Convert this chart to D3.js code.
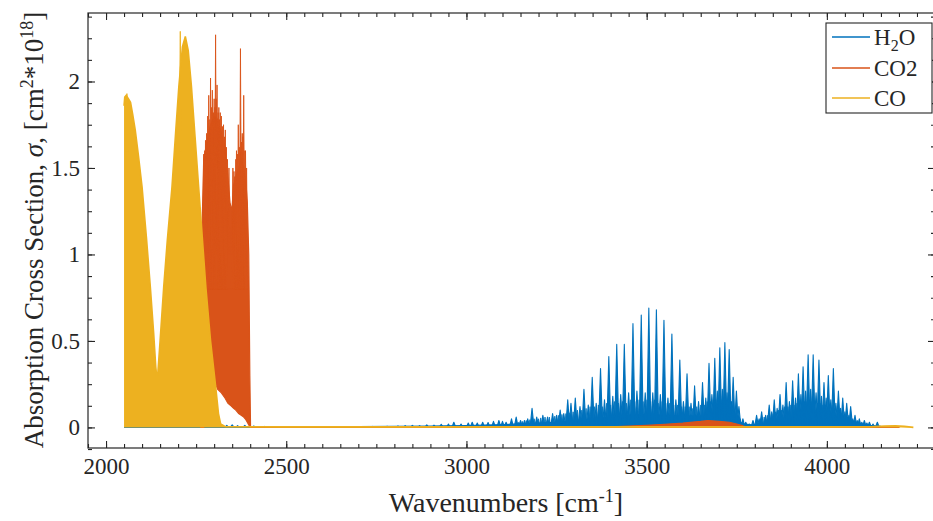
<!DOCTYPE html>
<html><head><meta charset="utf-8">
<script src="https://cdn.jsdelivr.net/npm/d3@7"></script>
<style>
body{margin:0;background:#fff}
svg{display:block}
text{font-family:"Liberation Serif","Times New Roman",serif;fill:#262626}
</style>
</head><body>
<svg id="c" width="933" height="521"></svg>
<script>
// ---------- axis settings ----------
const xDomain = [1950, 4300];
const yDomain = [-0.119, 2.396];
const xMajorTicks = [2000, 2500, 3000, 3500, 4000];
const yMajorTicks = [0, 0.5, 1, 1.5, 2];
const yTickLabels = ["0", "0.5", "1", "1.5", "2"];
const seriesNames = ["H2O", "CO2", "CO"];
const colors = ["#0072BD", "#D95319", "#EDB120"];

// ---------- CO (envelope of dense lines) ----------
const coWn  = [2050,2052,2056,2062,2068,2074,2081,2090,2100,2112,2123,2132,2138,2141,2144,2150,2160,2170,2183,2193,2202,2212,2220,2228,2237,2247,2257,2267,2277,2290,2304,2312,2318,2330,2500,3000,3500,4000,4120,4160,4190,4215,4240];
const coVal = [1.86,1.91,1.92,1.90,1.88,1.81,1.72,1.57,1.39,1.10,0.81,0.55,0.35,0.29,0.32,0.50,0.81,1.08,1.39,1.70,1.97,2.20,2.26,2.18,1.97,1.68,1.39,1.10,0.81,0.50,0.24,0.08,0.02,0.005,0.003,0.003,0.003,0.003,0.004,0.008,0.010,0.006,0];
const coSpikeWn  = [2058, 2206];
const coSpikeVal = [1.93, 2.29];

// ---------- CO2 (dense band: upper envelope, trough envelope) ----------
const co2Wn    = [2263,2267,2271,2280,2290,2300,2310,2320,2330,2338,2344,2349,2354,2360,2368,2375,2382,2388,2392,2396,2399,2401,2420,3000,3400,3450,3500,3550,3600,3650,3670,3700,3730,3750,3765,3775,4200];
const co2Upper = [0.30,1.20,1.55,1.65,1.75,1.80,1.78,1.70,1.62,1.45,1.30,1.25,1.40,1.45,1.50,1.55,1.50,1.42,1.30,1.00,0.30,0.00,0.002,0.002,0.004,0.008,0.012,0.018,0.025,0.035,0.040,0.035,0.030,0.020,0.010,0.002,0.001];
const co2Lower = [0,0,0,0.35,0.30,0.27,0.22,0.20,0.17,0.14,0.13,0.12,0.11,0.10,0.08,0.07,0.06,0.045,0.03,0.015,0.005,0,0,0,0,0,0,0,0,0,0,0,0,0,0,0,0];
const co2SpikeWn  = [2271,2274,2276,2279,2282,2285,2288,2290,2293,2295,2298,2300,2302,2304,2306,2308,2311,2313,2315,2317,2320,2323,2326,2329,2331,2334,2337,2341,2352,2355,2357,2360,2362,2365,2367,2370,2373,2376,2378,2380,2382,2385,2387,2390];
const co2SpikeVal = [1.58,1.60,1.66,1.70,1.80,1.92,1.78,2.02,1.85,1.95,1.82,1.90,1.85,2.27,1.90,1.98,1.82,1.85,1.78,1.82,1.80,1.74,1.75,1.68,1.72,1.62,1.55,1.50,1.50,1.48,1.45,1.55,1.60,1.58,1.75,1.62,2.19,1.65,1.70,1.68,1.92,1.60,1.60,1.50];

// ---------- H2O (dense floor + individual lines) ----------
const h2oBaseWn  = [2050,2300,2500,2700,2800,2900,3000,3100,3150,3200,3250,3300,3350,3400,3450,3500,3550,3600,3650,3700,3750,3770,3790,3810,3850,3900,3950,4000,4050,4100,4150,4200];
const h2oBaseVal = [0,0.003,0.004,0.005,0.006,0.008,0.011,0.016,0.020,0.025,0.030,0.040,0.050,0.060,0.070,0.075,0.070,0.065,0.065,0.065,0.040,0.020,0.015,0.020,0.030,0.045,0.055,0.050,0.035,0.015,0.006,0];
const h2oLineWn  = [2310,2335,2350,2365,2385,2410,2440,2480,2520,2560,2600,2650,2700,2740,2780,2810,2830,2850,2870,2890,2910,2930,2950,2965,2985,3005,3016,3030,3045,3060,3075,3090,3100,3110,3125,3138,3150,3161,3170,3182,3195,3212,3225,3239,3250,3260,3270,3281,3290,3302,3315,3326,3338,3349,3360,3372,3383,3395,3406,3417,3428,3438,3450,3462,3473,3485,3496,3506,3517,3527,3538,3548,3559,3570,3581,3592,3602,3612,3623,3633,3644,3655,3664,3673,3681,3689,3696,3703,3710,3717,3723,3729,3735,3740,3745,3749,3756,3767,3775,3785,3795,3805,3812,3819,3830,3840,3847,3854,3862,3870,3878,3887,3896,3905,3913,3921,3928,3934,3941,3948,3955,3962,3970,3978,3985,3992,3998,4004,4011,4018,4025,4032,4038,4044,4050,4055,4061,4066,4072,4078,4084,4090,4097,4104,4111,4118,4128,4140];
const h2oLineVal = [0.010,0.012,0.015,0.010,0.012,0.008,0.006,0.005,0.004,0.004,0.004,0.005,0.005,0.006,0.007,0.008,0.010,0.012,0.010,0.015,0.013,0.018,0.020,0.030,0.020,0.025,0.030,0.025,0.030,0.028,0.035,0.040,0.035,0.030,0.050,0.060,0.040,0.040,0.050,0.110,0.060,0.070,0.060,0.080,0.070,0.100,0.080,0.160,0.140,0.170,0.120,0.220,0.130,0.290,0.140,0.340,0.160,0.410,0.180,0.480,0.190,0.480,0.200,0.600,0.210,0.650,0.200,0.690,0.200,0.680,0.190,0.620,0.170,0.540,0.160,0.390,0.150,0.310,0.140,0.240,0.150,0.260,0.170,0.370,0.190,0.400,0.210,0.460,0.220,0.490,0.200,0.450,0.150,0.290,0.090,0.210,0.120,0.050,0.030,0.020,0.040,0.070,0.050,0.090,0.070,0.130,0.090,0.160,0.110,0.190,0.130,0.260,0.150,0.270,0.170,0.310,0.190,0.350,0.210,0.420,0.220,0.420,0.200,0.390,0.180,0.260,0.170,0.300,0.160,0.340,0.140,0.210,0.110,0.170,0.090,0.140,0.070,0.120,0.050,0.070,0.040,0.050,0.030,0.040,0.025,0.030,0.020,0.030];
const h2oWeakWn  = [3145,3155,3166,3176,3188,3200,3206,3218,3230,3245,3255,3265,3276,3285,3296,3308,3320,3332,3343,3355,3366,3377,3389,3400,3411,3422,3433,3444,3456,3467,3479,3490,3501,3511,3522,3532,3543,3553,3564,3575,3586,3597,3607,3618,3628,3639,3650,3660,3668,3677,3685,3692,3700,3706,3713,3720,3726,3732,3738,3752,3760,3816,3826,3835,3851,3858,3866,3874,3883,3892,3900,3909,3917,3925,3938,3945,3952,3959,3966,3974,3981,3989,3995,4001,4008,4015,4021,4029,4035,4041,4047,4053,4058,4064,4069,4075,4081,4087,4094,4101,4108];
const h2oWeakVal = [0.030,0.035,0.040,0.045,0.050,0.050,0.055,0.060,0.060,0.065,0.070,0.075,0.080,0.085,0.090,0.100,0.100,0.110,0.120,0.120,0.130,0.120,0.140,0.130,0.150,0.140,0.150,0.140,0.160,0.150,0.160,0.150,0.160,0.150,0.160,0.140,0.150,0.140,0.140,0.130,0.130,0.120,0.120,0.120,0.110,0.120,0.130,0.130,0.150,0.150,0.160,0.160,0.170,0.160,0.160,0.150,0.140,0.120,0.100,0.070,0.050,0.050,0.060,0.070,0.080,0.090,0.100,0.100,0.120,0.120,0.130,0.130,0.140,0.140,0.150,0.150,0.160,0.150,0.150,0.140,0.140,0.130,0.130,0.120,0.120,0.110,0.110,0.100,0.090,0.080,0.070,0.060,0.060,0.050,0.040,0.040,0.030,0.030,0.025,0.020,0.020];

// ---------- drawing ----------
const svg = d3.select("#c");
const m = {l:88, r:935, t:13, b:448};
const x = d3.scaleLinear().domain(xDomain).range([m.l, m.r]);
const y = d3.scaleLinear().domain(yDomain).range([m.b, m.t]);
const y0 = y(0);

svg.append("defs").append("clipPath").attr("id","clip")
  .append("rect").attr("x",m.l).attr("y",m.t).attr("width",m.r-m.l).attr("height",m.b-m.t);
const plot = svg.append("g").attr("clip-path","url(#clip)");

function spikes(g, wn, val, base, hw, color, sw){
  g.append("g").selectAll("path").data(wn.map((w,i)=>[w,val[i]])).join("path")
    .attr("d", d => { const cx=x(d[0]); return `M${cx-hw},${y(base)}L${cx},${y(d[1])}L${cx+hw},${y(base)}Z`; })
    .attr("fill", color).attr("stroke", color).attr("stroke-width", sw).attr("stroke-linejoin","round");
}

// H2O
const h2oBase = h2oBaseWn.map((w,i)=>[w,h2oBaseVal[i]]);
plot.append("path").datum(h2oBase)
  .attr("d", d3.area().x(d=>x(d[0])).y0(y0).y1(d=>y(d[1])))
  .attr("fill", colors[0]).attr("stroke",colors[0]).attr("stroke-width",1.2);
spikes(plot, h2oWeakWn, h2oWeakVal, 0, 1.4, colors[0], 0.8);
spikes(plot, h2oLineWn, h2oLineVal, 0, 2.0, colors[0], 1.1);

// CO2
const co2 = co2Wn.map((w,i)=>[w,co2Lower[i],co2Upper[i]]);
plot.append("path").datum(co2)
  .attr("d", d3.area().x(d=>x(d[0])).y0(d=>y(d[1])).y1(d=>y(d[2])))
  .attr("fill", colors[1]).attr("stroke",colors[1]).attr("stroke-width",1.2);
spikes(plot, co2SpikeWn, co2SpikeVal, 0.8, 1.2, colors[1], 0.9);

// CO
const co = coWn.map((w,i)=>[w,coVal[i]]);
plot.append("path").datum(co)
  .attr("d", d3.area().x(d=>x(d[0])).y0(y0).y1(d=>y(d[1])))
  .attr("fill", colors[2]);
plot.append("path").datum(co)
  .attr("d", d3.line().x(d=>x(d[0])).y(d=>y(d[1])))
  .attr("fill","none").attr("stroke",colors[2]).attr("stroke-width",1.6);
spikes(plot, coSpikeWn, coSpikeVal, 1.6, 1.2, colors[2], 0.9);

// ---------- axes ----------
const axColor = "#262626";
const xMinor = d3.range(xDomain[0], xDomain[1]+1, 50);
const yMinor = d3.range(-0.125, 2.4, 0.125);
function styleAxis(g){ g.select(".domain").remove(); g.selectAll("line").attr("stroke",axColor).attr("stroke-width",1.1); g.selectAll("text").attr("font-size",23).attr("fill",axColor).attr("font-family",'"Liberation Serif",serif'); }

svg.append("g").attr("transform",`translate(0,${m.b})`).call(d3.axisBottom(x).tickValues(xMinor).tickSize(-4).tickFormat("")).call(styleAxis);
svg.append("g").attr("transform",`translate(0,${m.b})`).call(d3.axisBottom(x).tickValues(xMajorTicks).tickSize(-7).tickPadding(10).tickFormat(d3.format("d"))).call(styleAxis);
svg.append("g").attr("transform",`translate(0,${m.t})`).call(d3.axisTop(x).tickValues(xMinor).tickSize(-4).tickFormat("")).call(styleAxis);
svg.append("g").attr("transform",`translate(0,${m.t})`).call(d3.axisTop(x).tickValues(xMajorTicks).tickSize(-7).tickFormat("")).call(styleAxis);
svg.append("g").attr("transform",`translate(${m.l},0)`).call(d3.axisLeft(y).tickValues(yMinor).tickSize(-4).tickFormat("")).call(styleAxis);
svg.append("g").attr("transform",`translate(${m.l},0)`).call(d3.axisLeft(y).tickValues(yMajorTicks).tickSize(-7).tickPadding(8).tickFormat((d,i)=>yTickLabels[i])).call(styleAxis);
svg.append("g").attr("transform",`translate(${m.r},0)`).call(d3.axisRight(y).tickValues(yMinor).tickSize(-4).tickFormat("")).call(styleAxis);
svg.append("g").attr("transform",`translate(${m.r},0)`).call(d3.axisRight(y).tickValues(yMajorTicks).tickSize(-7).tickFormat("")).call(styleAxis);

svg.append("rect").attr("x",m.l).attr("y",m.t).attr("width",m.r-m.l).attr("height",m.b-m.t)
  .attr("fill","none").attr("stroke",axColor).attr("stroke-width",1.2);

// axis titles
const xt = svg.append("text").attr("x",506).attr("y",512).attr("text-anchor","middle").attr("font-size",28);
xt.append("tspan").text("Wavenumbers [cm");
xt.append("tspan").attr("font-size",18).attr("dy",-10).text("-1");
xt.append("tspan").attr("dy",10).text("]");

const yt = svg.append("text").attr("transform","translate(43,230) rotate(-90)").attr("text-anchor","middle").attr("font-size",27);
yt.append("tspan").text("Absorption Cross Section, ");
yt.append("tspan").attr("font-style","italic").text("σ");
yt.append("tspan").text(", [cm");
yt.append("tspan").attr("font-size",18).attr("dy",-10).text("2");
yt.append("tspan").attr("dy",10).text("*10");
yt.append("tspan").attr("font-size",18).attr("dy",-10).text("18");
yt.append("tspan").attr("dy",10).text("]");

// legend
const lg = svg.append("g");
lg.append("rect").attr("x",826).attr("y",23).attr("width",106).attr("height",90)
  .attr("fill","#fff").attr("stroke",axColor).attr("stroke-width",1.1);
const rowsY = [37, 68, 98];
seriesNames.forEach((n,i)=>{
  lg.append("line").attr("x1",832).attr("x2",870).attr("y1",rowsY[i]).attr("y2",rowsY[i])
    .attr("stroke",colors[i]).attr("stroke-width",1.6);
  const t = lg.append("text").attr("x",874).attr("y",rowsY[i]+8).attr("font-size",23);
  if(n==="H2O"){ t.append("tspan").text("H"); t.append("tspan").attr("font-size",16).attr("dy",6).text("2"); t.append("tspan").attr("dy",-6).text("O"); }
  else t.text(n);
});
</script>
</body></html>
